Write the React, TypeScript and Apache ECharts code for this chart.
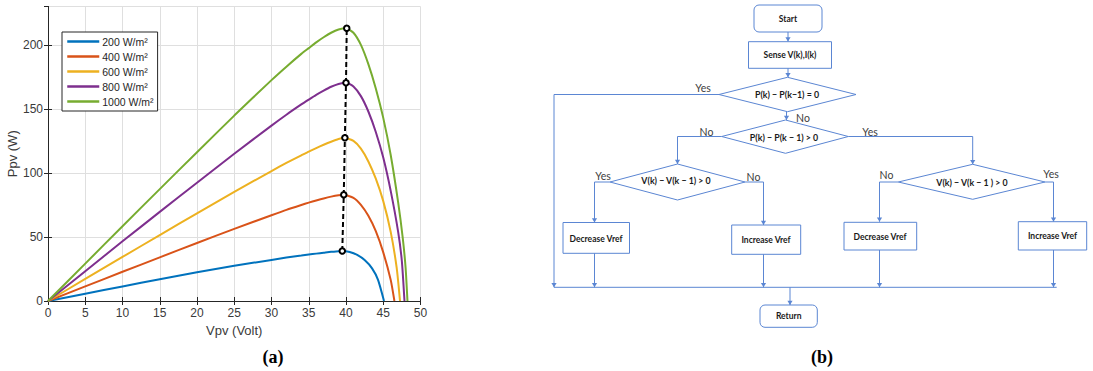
import React, { useEffect, useRef } from "react";
import * as echarts from "echarts";

// ---------- DATA (panel a) ----------
const legendNames = ["200 W/m²", "400 W/m²", "600 W/m²", "800 W/m²", "1000 W/m²"];
const seriesColors = ["#0072BD", "#D95319", "#EDB120", "#7E2F8E", "#77AC30"];

const curve200: [number, number][] = [
  [0, 0], [5, 5.7], [10, 11.4], [15, 17], [20, 22.4], [25, 27.5], [30, 32.1], [32, 33.9],
  [34, 35.5], [35, 36.3], [36, 37], [37, 37.7], [38, 38.4], [39, 38.9], [39.5, 39.1],
  [40.5, 38.3], [41.5, 36], [42.5, 32], [43.5, 25.5], [44.3, 16.5], [45.1, 0],
];
const curve400: [number, number][] = [
  [0, 0], [5, 11.4], [10, 22.8], [15, 34.1], [20, 45.3], [25, 56.3], [30, 67], [32, 71.2],
  [34, 75], [35, 76.8], [36, 78.5], [37, 80.1], [38, 81.5], [39, 82.6], [39.7, 83],
  [41, 80.5], [42, 75], [43, 66.5], [44, 54.5], [45, 38], [46, 16.5], [46.5, 0],
];
const curve600: [number, number][] = [
  [0, 0], [5, 17.2], [10, 34.4], [15, 51.5], [20, 68.4], [25, 85.2], [30, 101.5], [32, 107.8],
  [34, 113.8], [35, 116.6], [36, 119.4], [37, 122], [38, 124.4], [39, 126.5], [39.8, 127.5],
  [41, 125], [42, 119], [43, 109], [44, 95.5], [45, 78], [46, 54], [46.8, 26], [47.25, 0],
];
const curve800: [number, number][] = [
  [0, 0], [5, 23.3], [10, 46.6], [15, 69.6], [20, 92.4], [25, 115], [30, 137], [32, 145.5],
  [34, 153.5], [35, 157.3], [36, 161], [37, 164.3], [38, 167.3], [39, 169.5], [40, 170.5],
  [41, 167.5], [42, 160], [43, 148], [44, 132], [45, 112], [46, 86], [47, 54], [47.5, 31],
  [47.85, 0],
];
const curve1000: [number, number][] = [
  [0, 0], [5, 29.2], [10, 58.4], [15, 87.4], [20, 116.2], [25, 144.8], [30, 172.5], [32, 183],
  [34, 193], [35, 197.5], [36, 202], [37, 206], [38, 209.5], [39, 212], [40, 213],
  [41, 209.5], [42, 200], [43, 185], [44, 166], [45, 143], [46, 114], [47, 77], [47.6, 50],
  [48, 26], [48.25, 0],
];
const curves = [curve200, curve400, curve600, curve800, curve1000];

const mppVoltage = [39.5, 39.7, 39.85, 40.0, 40.1];
const mppPower = [39.1, 83, 127.5, 170.5, 213];

const xMin = 0, xMax = 50, xStep = 5;
const yMin = 0, yMax = 230, yStep = 50;

// ---------- Flowchart (panel b) ----------
const FC = "#5b86d3";
const BOX_FONT = "Lato, 'Open Sans', sans-serif";
const BOX_SIZE = 8.5;
const DIA_SIZE = 8.8;
const LBL_SIZE = 10.5;
const LBL = "#404040";

function pl(points: number[][]) {
  return { type: "polyline", silent: true, shape: { points }, style: { stroke: FC, lineWidth: 1, fill: null } };
}
function arrow(x: number, y: number) {
  return {
    type: "polygon", silent: true,
    shape: { points: [[x - 2.6, y - 4.2], [x + 2.6, y - 4.2], [x, y]] },
    style: { fill: FC, stroke: null },
  };
}
function rect(x: number, y: number, w: number, h: number, r = 0) {
  return {
    type: "rect", silent: true, shape: { x, y, width: w, height: h, r },
    style: { fill: "#ffffff", stroke: FC, lineWidth: 1 },
  };
}
function diamond(l: number, t: number, r: number, b: number, cx: number, cy: number) {
  return {
    type: "polygon", silent: true,
    shape: { points: [[l, cy], [cx, t], [r, cy], [cx, b]] },
    style: { fill: "#ffffff", stroke: FC, lineWidth: 1 },
  };
}
function txt(text: string, x: number, y: number, size: number, bold: boolean, color = "#1a1a1a") {
  return {
    type: "text", silent: true, x, y, z: 10,
    style: {
      text, fontSize: size, fontWeight: bold ? "bold" : "normal", fontFamily: BOX_FONT,
      fill: color, align: "center", verticalAlign: "middle", textAlign: "center", textVerticalAlign: "middle",
    },
  };
}

function flowchart() {
  const els: any[] = [];
  els.push(rect(754, 5, 68, 27, 5), txt("Start", 788, 18.5, BOX_SIZE, true));
  els.push(pl([[788, 32], [788, 41.5]]), arrow(788, 41.5));
  els.push(rect(748.5, 41.7, 83, 26.6), txt("Sense V(k),I(k)", 790, 55, BOX_SIZE, true));
  els.push(pl([[788, 68.3], [788, 77.3]]), arrow(788, 77.3));
  // Diamond 1
  els.push(diamond(719, 77.3, 856, 111.7, 787.5, 94.5), txt("P(k) − P(k−1) = 0", 787, 94.5, DIA_SIZE, true));
  els.push(pl([[719, 94.5], [554, 94.5], [554, 287.3]]), arrow(554, 287.3));
  els.push(txt("Yes", 703, 88, LBL_SIZE, false, LBL));
  els.push(pl([[786.5, 111.7], [786.5, 120]]), arrow(786.5, 120));
  els.push(txt("No", 803, 117.5, LBL_SIZE, false, LBL));
  // Diamond 2
  els.push(diamond(721.7, 120, 848.3, 153.3, 785.5, 136.5), txt("P(k) − P(k − 1) > 0", 784, 137, DIA_SIZE, true));
  els.push(pl([[721.7, 136.5], [677.5, 136.5], [677.5, 164]]), arrow(677.5, 164));
  els.push(txt("No", 706.5, 131.5, LBL_SIZE, false, LBL));
  els.push(pl([[848.3, 136.5], [972.7, 136.5], [972.7, 164.3]]), arrow(972.7, 164.3));
  els.push(txt("Yes", 870, 131.5, LBL_SIZE, false, LBL));
  // Diamond 3
  els.push(diamond(610, 164, 745, 200, 677.5, 182), txt("V(k) − V(k − 1) > 0", 676, 180.5, DIA_SIZE, true));
  els.push(pl([[610, 182], [594.5, 182], [594.5, 222.5]]), arrow(594.5, 222.5));
  els.push(txt("Yes", 603, 176, LBL_SIZE, false, LBL));
  els.push(pl([[745, 182], [763.5, 182], [763.5, 225]]), arrow(763.5, 225));
  els.push(txt("No", 753.5, 177, LBL_SIZE, false, LBL));
  // Diamond 4
  els.push(diamond(898.3, 164.3, 1045, 199.3, 972.7, 182), txt("V(k) − V(k − 1 ) > 0", 972, 182, DIA_SIZE, true));
  els.push(pl([[898.3, 182], [879.5, 182], [879.5, 221.7]]), arrow(879.5, 221.7));
  els.push(txt("No", 886.5, 175, LBL_SIZE, false, LBL));
  els.push(pl([[1045, 182], [1053.5, 182], [1053.5, 221.7]]), arrow(1053.5, 221.7));
  els.push(txt("Yes", 1051, 174, LBL_SIZE, false, LBL));
  // Action boxes
  els.push(rect(563, 222.5, 66.5, 30.8), txt("Decrease Vref", 596, 238.5, BOX_SIZE, true));
  els.push(rect(731.7, 225, 69, 29.3), txt("Increase Vref", 766, 240, BOX_SIZE, true));
  els.push(rect(844, 222.3, 72.7, 27.7), txt("Decrease Vref", 880, 236.5, BOX_SIZE, true));
  els.push(rect(1018.3, 221.7, 68.4, 28.3), txt("Increase Vref", 1052.5, 236, BOX_SIZE, true));
  // Down to bus
  els.push(pl([[594.5, 253.3], [594.5, 287.3]]), arrow(594.5, 287.3));
  els.push(pl([[763.5, 254.3], [763.5, 287.3]]), arrow(763.5, 287.3));
  els.push(pl([[879.5, 250], [879.5, 287.3]]), arrow(879.5, 287.3));
  els.push(pl([[1053.5, 250], [1053.5, 287.3]]), arrow(1053.5, 287.3));
  els.push(pl([[554, 287.3], [1056.7, 287.3]]));
  els.push(pl([[790, 287.3], [790, 305]]), arrow(790, 305));
  els.push(rect(760, 305, 57.3, 22.3, 5), txt("Return", 788.7, 316, BOX_SIZE, true));
  // Captions
  const cap = (t: string, x: number) => ({
    type: "text", silent: true, x, y: 357,
    style: {
      text: t, fontSize: 18, fontWeight: "bold", fontFamily: "'Liberation Serif', serif", fill: "#000",
      align: "center", verticalAlign: "middle", textAlign: "center", textVerticalAlign: "middle",
    },
  });
  els.push(cap("(a)", 273), cap("(b)", 822));
  return els;
}

export default function App() {
  const ref = useRef<HTMLDivElement>(null);
  useEffect(() => {
    if (!ref.current) return;
    const chart = echarts.init(ref.current, null, { renderer: "svg" });
    const AX = "#262626";
    const TXT = "#3a3a3a";
    const FONT = "'Liberation Sans', Arial, sans-serif";
    const curveSeries = curves.map((data, i) => ({
      name: legendNames[i],
      type: "line",
      data,
      symbol: "none",
      smooth: 0.2,
      lineStyle: { color: seriesColors[i], width: 2 },
      itemStyle: { color: seriesColors[i] },
      xAxisIndex: 0, yAxisIndex: 0, z: 3,
    }));
    const mppSeries = {
      name: "MPP",
      type: "line",
      data: mppVoltage.map((v, i) => [v, mppPower[i]]),
      symbol: "emptyCircle",
      symbolSize: 5.5,
      lineStyle: { color: "#000", width: 2, type: [5, 3] },
      itemStyle: { color: "#000", borderColor: "#000", borderWidth: 1.5 },
      xAxisIndex: 0, yAxisIndex: 0, z: 5,
    };
    const option: any = {
      animation: false,
      backgroundColor: "#ffffff",
      textStyle: { fontFamily: FONT },
      grid: { left: 48, top: 6.5, width: 372.5, height: 294.5, containLabel: false, outerBoundsMode: "none" },
      legend: {
        data: legendNames,
        orient: "vertical",
        left: 62,
        top: 32,
        padding: [4, 4, 4, 4],
        itemWidth: 32,
        itemHeight: 10,
        itemGap: 4,
        borderColor: AX,
        borderWidth: 1,
        backgroundColor: "#ffffff",
        textStyle: { fontSize: 10.5, color: AX, fontFamily: FONT, padding: [0, 0, 0, -2] },
        itemStyle: { opacity: 0 },
        lineStyle: { width: 2.5 },
        selectedMode: false,
      },
      xAxis: [
        {
          type: "value", min: xMin, max: xMax, interval: xStep, position: "bottom",
          name: "Vpv (Volt)", nameLocation: "middle", nameGap: 22,
          nameTextStyle: { fontSize: 13, color: TXT, fontFamily: FONT, fontWeight: "normal" },
          axisLine: { show: true, lineStyle: { color: AX, width: 1 } },
          axisTick: { show: true, inside: true, length: 4, lineStyle: { color: AX } },
          axisLabel: { fontSize: 12, color: TXT, margin: 6, fontFamily: FONT },
          splitLine: { show: true, lineStyle: { color: "#dfdfdf", width: 1 } },
        },
        {
          type: "value", min: xMin, max: xMax, interval: xStep, position: "top",
          axisLine: { show: true, lineStyle: { color: AX, width: 1 } },
          axisTick: { show: true, inside: true, length: 4, lineStyle: { color: AX } },
          axisLabel: { show: false }, splitLine: { show: false },
        },
      ],
      yAxis: [
        {
          type: "value", min: yMin, max: yMax, interval: yStep, position: "left",
          name: "Ppv (W)", nameLocation: "middle", nameGap: 29, nameRotate: 90,
          nameTextStyle: { fontSize: 13, color: TXT, fontFamily: FONT, fontWeight: "normal" },
          axisLine: { show: true, lineStyle: { color: AX, width: 1 } },
          axisTick: { show: true, inside: true, length: 4, lineStyle: { color: AX } },
          axisLabel: {
            fontSize: 12, color: TXT, margin: 5, fontFamily: FONT, showMaxLabel: false,
            formatter: (v: number) => (v % yStep === 0 ? String(v) : ""),
          },
          splitLine: { show: true, lineStyle: { color: "#dfdfdf", width: 1 } },
        },
        {
          type: "value", min: yMin, max: yMax, interval: yStep, position: "right",
          axisLine: { show: true, lineStyle: { color: AX, width: 1 } },
          axisTick: { show: true, inside: true, length: 4, lineStyle: { color: AX } },
          axisLabel: { show: false }, splitLine: { show: false },
        },
      ],
      series: [...curveSeries, mppSeries],
      graphic: { elements: flowchart() },
    };
    chart.setOption(option);
    return () => chart.dispose();
  }, []);
  return (
    <div
      ref={ref}
      style={{ position: "absolute", left: 0, top: 0, width: 1093, height: 371, background: "#fff" }}
    />
  );
}
